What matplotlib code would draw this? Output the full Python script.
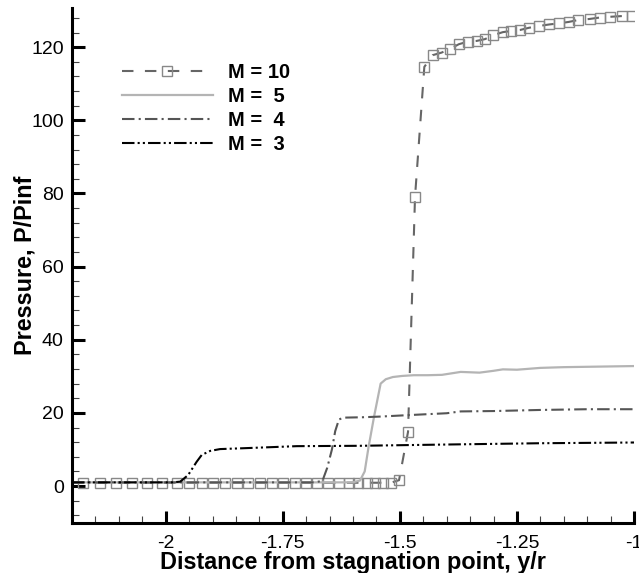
import numpy as np
import matplotlib
matplotlib.use("Agg")
import matplotlib.pyplot as plt
from matplotlib.ticker import MultipleLocator, FuncFormatter

plt.rcParams['font.family'] = ['Liberation Sans', 'DejaVu Sans']

# M = 10 (grid points, markers on each)
x_m10 = [-2.2, -2.1765, -2.1402, -2.1060, -2.0719, -2.0398, -2.0078, -1.9758, -1.9502,
         -1.9224, -1.8989, -1.8733, -1.8477, -1.8242, -1.7986, -1.7729, -1.7494,
         -1.7238, -1.7003, -1.6768, -1.6533, -1.6299, -1.6085, -1.5893, -1.5701,
         -1.5530, -1.5359, -1.5188, -1.5017, -1.4825, -1.4676, -1.4477, -1.4300,
         -1.4110, -1.3930, -1.3740, -1.3550, -1.3360, -1.3180, -1.3000, -1.2800,
         -1.2630, -1.2430, -1.2240, -1.2020, -1.1810, -1.1600, -1.1390, -1.1200,
         -1.0950, -1.0730, -1.0510, -1.0250, -1.0050]
p_m10 = [0.9, 0.9, 0.9, 0.9, 0.9, 0.9, 0.9, 0.9, 0.9,
         0.9, 0.9, 0.9, 0.9, 0.9, 0.9, 0.9, 0.9,
         0.9, 0.9, 0.9, 0.9, 0.9, 0.9, 0.9, 0.9,
         0.9, 0.9, 0.9, 1.6, 14.8, 79.0, 114.6, 117.8,
         118.5, 119.5, 120.8, 121.5, 121.7, 122.2, 123.3, 124.1,
         124.4, 124.7, 125.3, 125.8, 126.2, 126.5, 126.9, 127.4,
         127.7, 128.1, 128.3, 128.5, 128.5]

# M = 5
x_m5 = [-2.2, -1.600, -1.585, -1.575, -1.567, -1.555, -1.541, -1.530, -1.515, -1.495,
        -1.470, -1.440, -1.410, -1.390, -1.370, -1.350, -1.330, -1.300, -1.280,
        -1.250, -1.220, -1.200, -1.150, -1.100, -1.050, -1.000]
p_m5 = [1.0, 1.0, 1.5, 4.0, 10.5, 19.0, 28.0, 29.2, 29.8, 30.1,
        30.3, 30.3, 30.4, 30.8, 31.2, 31.1, 31.0, 31.5, 31.9,
        31.8, 32.1, 32.3, 32.5, 32.6, 32.7, 32.8]

# M = 4
x_m4 = [-2.2, -1.680, -1.665, -1.655, -1.645, -1.638, -1.630, -1.620, -1.580, -1.540,
        -1.480, -1.400, -1.370, -1.300, -1.200, -1.100, -1.000]
p_m4 = [1.0, 1.0, 1.5, 5.0, 10.0, 15.0, 18.2, 18.7, 18.8, 19.0,
        19.4, 19.9, 20.4, 20.5, 20.8, 21.0, 21.0]

# M = 3
x_m3 = [-2.2, -1.985, -1.969, -1.952, -1.934, -1.923, -1.905, -1.884, -1.841, -1.720,
        -1.585, -1.480, -1.371, -1.200, -1.000]
p_m3 = [1.0, 1.0, 1.2, 3.0, 6.6, 8.5, 9.6, 10.1, 10.3, 10.9,
        11.0, 11.2, 11.4, 11.7, 11.9]

fig = plt.figure(figsize=(6.39, 5.73), dpi=100)
ax = fig.add_axes([72 / 639, 50.4 / 573, 562 / 639, 514.6 / 573])

ax.plot(x_m10, p_m10, color='#666666', lw=1.5, linestyle=(0, (5.5, 5.5)),
        marker='s', markersize=7, mfc='none', mec='#888888', mew=1.0,
        markevery=slice(1, None), label='M = 10')
ax.plot(x_m5, p_m5, color='#b4b4b4', lw=1.6, linestyle='-', label='M =  5')
ax.plot(x_m4, p_m4, color='#555555', lw=1.5, linestyle=(0, (6, 2, 1, 2)), label='M =  4')
ax.plot(x_m3, p_m3, color='black', lw=1.5, linestyle=(0, (6, 1.5, 1, 1.5, 1, 1.5)),
        label='M =  3')

ax.set_xlim(-2.2, -1.0)
ax.set_ylim(-10, 130.7)

ax.xaxis.set_major_locator(MultipleLocator(0.25))
ax.xaxis.set_minor_locator(MultipleLocator(0.05))
ax.yaxis.set_major_locator(MultipleLocator(20))
ax.yaxis.set_minor_locator(MultipleLocator(4))
ax.xaxis.set_major_formatter(FuncFormatter(lambda v, p: '%g' % round(v, 2)))

for s in ['top', 'right']:
    ax.spines[s].set_visible(False)
for s in ['left', 'bottom']:
    ax.spines[s].set_linewidth(2.2)

ax.tick_params(which='major', direction='in', length=9, width=2.2, labelsize=14)
ax.tick_params(which='minor', direction='in', length=5, width=0.8, color='#444444')
ax.tick_params(axis='x', which='major', pad=9)
ax.tick_params(axis='y', which='major', pad=6)

ax.set_xlabel('Distance from stagnation point, y/r', fontsize=16.8, fontweight='bold', labelpad=-1)
ax.set_ylabel('Pressure, P/Pinf', fontsize=16.8, fontweight='bold', labelpad=-4)

leg = ax.legend(loc='upper left', bbox_to_anchor=(0.089, 0.893), frameon=False,
                borderpad=0, borderaxespad=0,
                handlelength=4.5, handletextpad=0.75, labelspacing=0.24, numpoints=1,
                prop={'weight': 'bold', 'size': 14.5})

fig.savefig('out.png', dpi=100)
